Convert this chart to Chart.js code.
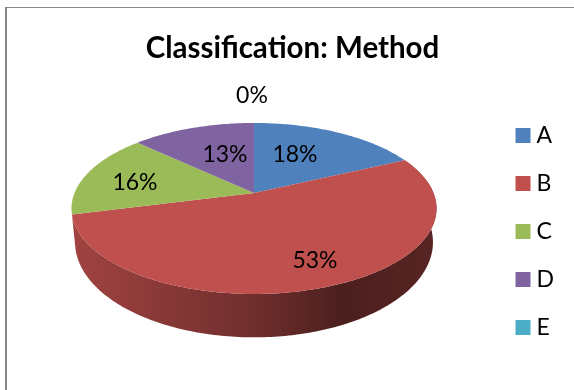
<!DOCTYPE html>
<html>
<head>
<meta charset="utf-8">
<title>Classification: Method</title>
<script src="https://cdn.jsdelivr.net/npm/chart.js@4"></script>
<style>
  html, body { margin: 0; padding: 0; background: #fff; overflow: hidden; }
  #frame { position: absolute; left: 5px; top: 7px; width: 600px; height: 400px;
           border-left: 2px solid #868686; border-top: 1px solid #868686; }
  #pie { position: absolute; left: 0; top: 0; }
</style>
</head>
<body>
<div id="frame"></div>
<canvas id="pie" width="574" height="390"></canvas>
<script>
const categories = ["A", "B", "C", "D", "E"];
const percents = [18, 53, 16, 13, 0];
const sliceColors = ["#4F81BD", "#C0504D", "#9BBB59", "#8064A2", "#4BACC6"];

// where the percent text sits, one per slice
const labelSpots = [[295, 155], [315, 261], [135, 183], [225, 155], [252, 96]];

// perspective disc: k is how much nearer points grow
const topDisc = { cx: 254, cy: 193, rx: 179.5, ry: 82.7, k: 0.181 };
const bottomDisc = { cx: 254, cy: 225, rx: 176, ry: 92, k: 0.181 };

// rim brightness from left to right
const rimShade = [[0, 0.84], [0.5, 0.58], [0.74, 0.39], [1, 0.46]];

function project(disc, angle, r) {
  const clock = angle + Math.PI / 2;
  const u = Math.sin(clock) * r;
  const v = -Math.cos(clock) * r;
  const w = 1 - disc.k * v;
  return [disc.cx + disc.rx * u / w, disc.cy + disc.ry * v / w];
}

function arcPoints(disc, start, end) {
  const pts = [];
  const steps = Math.max(2, Math.ceil((end - start) * 60));
  for (let i = 0; i <= steps; i++) {
    pts.push(project(disc, start + (end - start) * i / steps, 1));
  }
  return pts;
}

function tracePolygon(ctx, pts) {
  ctx.beginPath();
  pts.forEach((p, i) => (i ? ctx.lineTo(p[0], p[1]) : ctx.moveTo(p[0], p[1])));
  ctx.closePath();
}

function shadeColor(hex, f) {
  const n = parseInt(hex.slice(1), 16);
  const r = Math.round((n >> 16) * f);
  const g = Math.round(((n >> 8) & 255) * f);
  const b = Math.round((n & 255) * f);
  return `rgb(${r},${g},${b})`;
}

// The arcs keep their angles from the chart, but are drawn as a tilted 3D disc
const tiltedPie = {
  id: "tiltedPie",
  beforeDatasetsDraw(chart) {
    const ctx = chart.ctx;
    const arcs = chart.getDatasetMeta(0).data;
    ctx.save();

    arcs.forEach((arc, i) => {
      if (arc.endAngle - arc.startAngle <= 0) return;
      // only slices facing the viewer show their rim
      const mid = (arc.startAngle + arc.endAngle) / 2;
      if (Math.sin(mid) < 0) return;
      const upper = arcPoints(topDisc, arc.startAngle, arc.endAngle);
      const lower = arcPoints(bottomDisc, arc.startAngle, arc.endAngle).reverse();
      const grad = ctx.createLinearGradient(72, 0, 437, 0);
      rimShade.forEach(s => grad.addColorStop(s[0], shadeColor(sliceColors[i], s[1])));
      tracePolygon(ctx, upper.concat(lower));
      ctx.fillStyle = grad;
      ctx.fill();
    });

    arcs.forEach((arc, i) => {
      if (arc.endAngle - arc.startAngle <= 0) return;
      const face = arcPoints(topDisc, arc.startAngle, arc.endAngle);
      face.push([topDisc.cx, topDisc.cy]);
      tracePolygon(ctx, face);
      ctx.fillStyle = sliceColors[i];
      ctx.fill();
    });

    ctx.fillStyle = "#000";
    ctx.font = "23px Lato";
    ctx.textAlign = "center";
    ctx.textBaseline = "middle";
    percents.forEach((p, i) => {
      ctx.fillText(p + "%", labelSpots[i][0], labelSpots[i][1]);
    });

    ctx.restore();
    return false;
  },
};

new Chart(document.getElementById("pie"), {
  type: "pie",
  data: {
    labels: categories,
    datasets: [{ data: percents, backgroundColor: sliceColors, borderWidth: 0 }],
  },
  plugins: [tiltedPie],
  options: {
    responsive: false,
    animation: false,
    layout: { padding: { left: 21, top: 0, right: 10, bottom: 26 } },
    plugins: {
      tooltip: { enabled: false },
      title: {
        display: true,
        text: "Classification: Method",
        color: "#000",
        font: { family: "Lato", size: 29.5, weight: "bold" },
        padding: { top: 31, bottom: 10 },
      },
      legend: {
        position: "right",
        align: "end",
        labels: {
          usePointStyle: true,
          pointStyle: "rect",
          boxWidth: 4,
          boxHeight: 15,
          padding: 25,
          color: "#000",
          font: { family: "Lato", size: 23 },
        },
      },
    },
  },
});
</script>
</body>
</html>
